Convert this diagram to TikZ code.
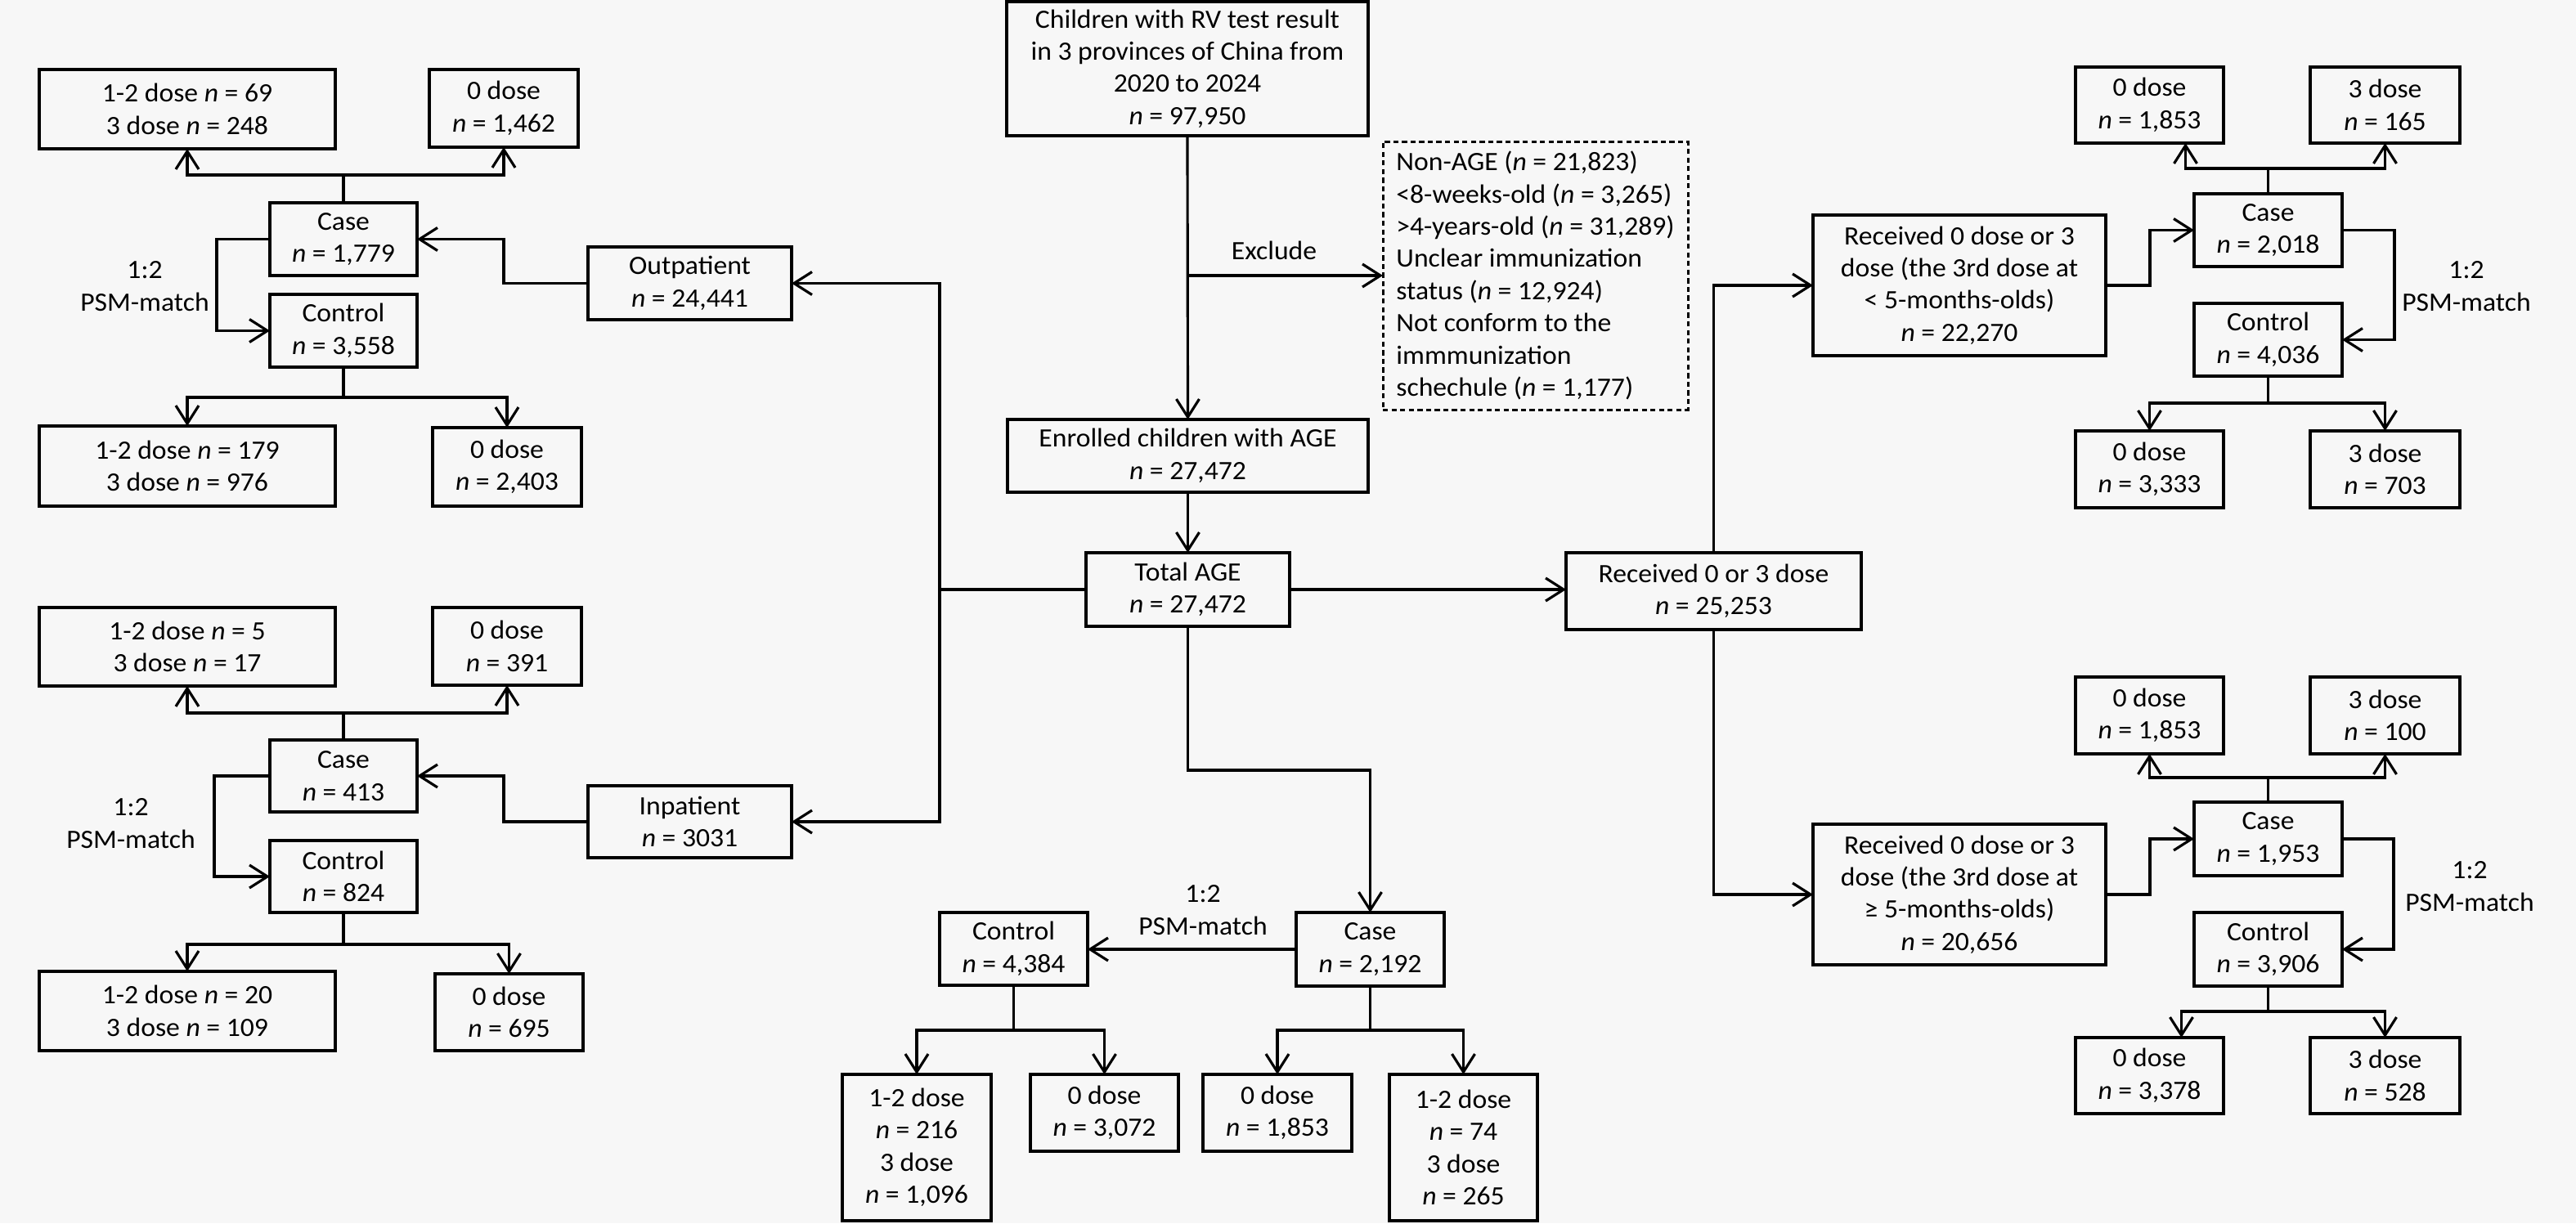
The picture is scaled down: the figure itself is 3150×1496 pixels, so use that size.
\documentclass[tikz,border=0pt]{standalone}
\usepackage{fontspec}
\setmainfont{Carlito}[FakeStretch=1.04]
\usetikzlibrary{arrows.meta,calc}
\definecolor{bgc}{RGB}{247,247,247}
\newcommand\nn{\textit{n}}
\newcommand\pbox[7][]{%
  \pgfmathsetmacro\pcx{(#3+#5)/2}\pgfmathsetmacro\pcy{(#4+#6)/2}%
  \pgfmathsetmacro\pww{(#5-#3)*0.01}\pgfmathsetmacro\phh{(#6-#4)*0.01}%
  \node[box,#1,minimum width=\pww cm,minimum height=\phh cm] (#2) at (\pcx,\pcy) {#7};}
\tikzset{
  box/.style={draw,line width=1.05pt,fill=bgc,inner sep=0pt,outer sep=0pt,align=center,
    font=\fontsize{9.2}{11.2}\selectfont},
  dbox/.style={box,dash pattern=on 1.8pt off 1.2pt,line width=0.85pt,align=left},
  lbl/.style={align=center,font=\fontsize{9.2}{11.2}\selectfont,inner sep=0pt},
  arr/.style={line width=0.9pt,-{Straight Barb[length=0.22cm,width=0.28cm,line width=0.9pt]}},
  ln/.style={line width=0.9pt},
}
\begin{document}
\begin{tikzpicture}[x=0.01cm,y=-0.01cm]
\fill[bgc] (0,0) rectangle (3150,1496);
\useasboundingbox (0,0) rectangle (3150,1496);
% ---------- Outpatient group
\pbox{lta}{48}{85}{410}{182}{1-2 dose \nn{} = 69\\3 dose \nn{} = 248}
\pbox{ltb}{525}{85}{707}{180}{0 dose\\\nn{} = 1,462}
\pbox{caseA}{330}{248}{510}{337}{Case\\\nn{} = 1,779}
\pbox{ctrlA}{330}{360}{510}{449}{Control\\\nn{} = 3,558}
\pbox{ltc}{48}{521}{410}{619}{1-2 dose \nn{} = 179\\3 dose \nn{} = 976}
\pbox{ltd}{529}{523}{711}{619}{0 dose\\\nn{} = 2,403}
\pbox{outp}{719}{302}{968}{391}{Outpatient\\\nn{} = 24,441}
\node[lbl] (psmA) at (177,350) {1:2\\PSM-match};
% ---------- Inpatient group
\pbox{lba}{48}{743}{410}{839}{1-2 dose \nn{} = 5\\3 dose \nn{} = 17}
\pbox{lbb}{529}{743}{711}{838}{0 dose\\\nn{} = 391}
\pbox{caseB}{330}{905}{510}{993}{Case\\\nn{} = 413}
\pbox{ctrlB}{330}{1028}{510}{1116}{Control\\\nn{} = 824}
\pbox{lbc}{48}{1188}{410}{1285}{1-2 dose \nn{} = 20\\3 dose \nn{} = 109}
\pbox{lbd}{532}{1191}{713}{1285}{0 dose\\\nn{} = 695}
\pbox{inp}{719}{961}{968}{1049}{Inpatient\\\nn{} = 3031}
\node[lbl] (psmB) at (160,1007) {1:2\\PSM-match};
% ---------- Centre column
\pbox{top}{1231}{2}{1673}{166}{Children with RV test result\\in 3 provinces of China from\\2020 to 2024\\\nn{} = 97,950}
\pbox[dbox]{excl}{1691}{173}{2064}{501}{Non-AGE (\nn{} = 21,823)\\<8-weeks-old (\nn{} = 3,265)\\>4-years-old (\nn{} = 31,289)\\Unclear immunization\\status (\nn{} = 12,924)\\Not conform to the\\immmunization\\schechule (\nn{} = 1,177)}
\pbox{enr}{1232}{513}{1673}{602}{Enrolled children with AGE\\\nn{} = 27,472}
\pbox{tot}{1328}{676}{1577}{766}{Total AGE\\\nn{} = 27,472}
\pbox{rec}{1915}{676}{2276}{770}{Received 0 or 3 dose\\\nn{} = 25,253}
\node[lbl] (exlbl) at (1558,306) {Exclude};
% ---------- Bottom centre
\pbox{caseC}{1585}{1116}{1766}{1206}{Case\\\nn{} = 2,192}
\pbox{ctrlC}{1149}{1116}{1330}{1205}{Control\\\nn{} = 4,384}
\pbox{bca}{1030}{1314}{1212}{1493}{1-2 dose\\\nn{} = 216\\3 dose\\\nn{} = 1,096}
\pbox{bcb}{1260}{1314}{1441}{1408}{0 dose\\\nn{} = 3,072}
\pbox{bcc}{1471}{1314}{1653}{1408}{0 dose\\\nn{} = 1,853}
\pbox{bcd}{1699}{1314}{1880}{1493}{1-2 dose\\\nn{} = 74\\3 dose\\\nn{} = 265}
\node[lbl] (psmC) at (1471,1113) {1:2\\PSM-match};
% ---------- Right upper
\pbox{rA}{2217}{263}{2575}{435}{Received 0 dose or 3\\dose (the 3rd dose at\\< 5-months-olds)\\\nn{} = 22,270}
\pbox{caseD}{2683}{237}{2864}{326}{Case\\\nn{} = 2,018}
\pbox{ctrlD}{2683}{371}{2864}{460}{Control\\\nn{} = 4,036}
\pbox{ra}{2538}{82}{2719}{175}{0 dose\\\nn{} = 1,853}
\pbox{rb}{2825}{82}{3008}{175}{3 dose\\\nn{} = 165}
\pbox{rc}{2538}{527}{2719}{621}{0 dose\\\nn{} = 3,333}
\pbox{rd}{2825}{527}{3008}{621}{3 dose\\\nn{} = 703}
\node[lbl] (psmD) at (3016,350) {1:2\\PSM-match};
% ---------- Right lower
\pbox{rB}{2217}{1008}{2575}{1180}{Received 0 dose or 3\\dose (the 3rd dose at\\≥ 5-months-olds)\\\nn{} = 20,656}
\pbox{caseE}{2683}{981}{2864}{1071}{Case\\\nn{} = 1,953}
\pbox{ctrlE}{2683}{1116}{2864}{1206}{Control\\\nn{} = 3,906}
\pbox{re}{2538}{828}{2719}{922}{0 dose\\\nn{} = 1,853}
\pbox{rf}{2825}{828}{3008}{922}{3 dose\\\nn{} = 100}
\pbox{rg}{2538}{1269}{2719}{1362}{0 dose\\\nn{} = 3,378}
\pbox{rh}{2825}{1269}{3008}{1362}{3 dose\\\nn{} = 528}
\node[lbl] (psmE) at (3020,1084) {1:2\\PSM-match};
% ========== connectors
% outpatient group
\draw[arr] (caseA.north) -- ++(0,-34) -| (lta.south);
\draw[arr] (caseA.north) -- ++(0,-34) -| (ltb.south);
\draw[arr] (caseA.west) -- ++(-65,0) |- (ctrlA.west);
\draw[arr] (ctrlA.south) -- ++(0,37) -| (ltc.north);
\draw[arr] (ctrlA.south) -- ++(0,37) -| (ltd.north);
\draw[arr] (outp.west) -- ++(-103,0) |- (caseA.east);
% inpatient group
\draw[arr] (caseB.north) -- ++(0,-33) -| (lba.south);
\draw[arr] (caseB.north) -- ++(0,-33) -| (lbb.south);
\draw[arr] (caseB.west) -- ++(-68,0) |- (ctrlB.west);
\draw[arr] (ctrlB.south) -- ++(0,39) -| (lbc.north);
\draw[arr] (ctrlB.south) -- ++(0,39) -| (lbd.north);
\draw[arr] (inp.west) -- ++(-103,0) |- (caseB.east);
% centre
\draw[arr] (top.south) -- (enr.north);
\coordinate (exb) at (top.south |- excl.west);
\draw[arr] (exb) -- (excl.west);
\draw[arr] (enr.south) -- (tot.north);
\draw[arr] (tot.west) -- ++(-179,0) |- (outp.east);
\draw[arr] (tot.west) -- ++(-179,0) |- (inp.east);
\draw[arr] (tot.east) -- (tot.east -| rec.west);
\draw[arr] (tot.south) -- ++(0,176) -| (caseC.north);
% bottom centre
\draw[arr] (caseC.west) -- (caseC.west -| ctrlC.east);
\draw[arr] (ctrlC.south) -- ++(0,55) -| (bca.north);
\draw[arr] (ctrlC.south) -- ++(0,55) -| (bcb.north);
\draw[arr] (caseC.south) -- ++(0,54) -| (bcc.north);
\draw[arr] (caseC.south) -- ++(0,54) -| (bcd.north);
% right
\draw[arr] (rec.north) |- (rA.west);
\draw[arr] (rec.south) |- (rB.west);
\draw[arr] (rA.east) -- ++(54,0) |- (caseD.west);
\draw[arr] (caseD.north) -- ++(0,-31) -| ($(ra.south)+(44,0)$);
\draw[arr] (caseD.north) -- ++(0,-31) -| (rb.south);
\draw[arr] (caseD.east) -- ++(64,0) |- (ctrlD.east);
\draw[arr] (ctrlD.south) -- ++(0,33) -| (rc.north);
\draw[arr] (ctrlD.south) -- ++(0,33) -| (rd.north);
\draw[arr] (rB.east) -- ++(54,0) |- (caseE.west);
\draw[arr] (caseE.north) -- ++(0,-30) -| (re.south);
\draw[arr] (caseE.north) -- ++(0,-30) -| (rf.south);
\draw[arr] (caseE.east) -- ++(63,0) |- (ctrlE.east);
\draw[arr] (ctrlE.south) -- ++(0,31) -| ($(rg.north)+(39,0)$);
\draw[arr] (ctrlE.south) -- ++(0,31) -| (rh.north);
\end{tikzpicture}
\end{document}
